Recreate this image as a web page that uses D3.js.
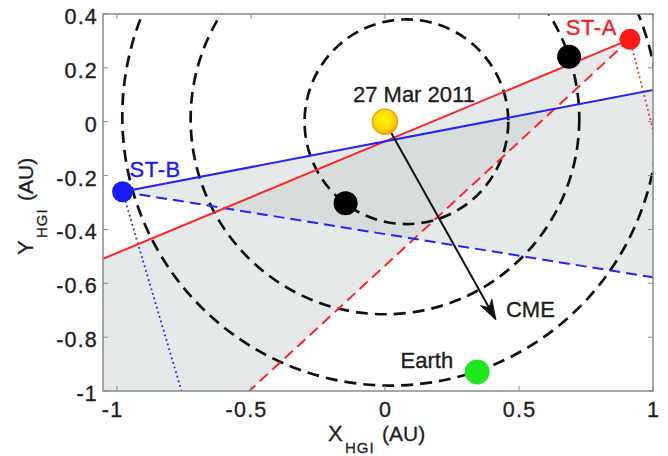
<!DOCTYPE html>
<html>
<head>
<meta charset="utf-8">
<script src="https://cdn.jsdelivr.net/npm/d3@7/dist/d3.min.js"></script>
<style>
  html, body { margin: 0; padding: 0; background: #fff; }
  svg { display: block; font-family: Arial, "Liberation Sans", Helvetica, sans-serif; }
</style>
</head>
<body>
<svg id="chart" width="668" height="456"></svg>
<script>
// ---------------- data (AU, HGI coordinates) ----------------
const xTicks = [-1, -0.5, 0, 0.5, 1];
const yTicks = [0.4, 0.2, 0, -0.2, -0.4, -0.6, -0.8, -1];
const xDomain = [-1.052, 1.0];
const yDomain = [-1.0, 0.4];

// spacecraft
const craftNames = ["ST-A", "ST-B"];
const craftX = [0.914, -0.979];
const craftY = [0.306, -0.260];
// far ends of the lines of sight (solid, dashed, dotted) for each craft
const solidEndX = [-1.052, 1.0];
const solidEndY = [-0.509, 0.118];
const dashEndX = [-0.506, 1.0];
const dashEndY = [-1.0, -0.578];
const dotEndX = [1.0, -0.759];
const dotEndY = [-0.03, -1.0];

// dashed circles (CME fronts / orbit)
const circleCx = [0.08, 0.0, 0.02];
const circleCy = [0.0, 0.01, 0.02];
const circleR = [0.38, 0.725, 1.0];

// black points on the fronts
const frontX = [0.687, -0.147];
const frontY = [0.241, -0.303];

// Sun, Earth, CME arrow
const sunXY = [0, 0];
const earthXY = [0.344, -0.929];
const cmeFrom = [0, 0];
const cmeTo = [0.414, -0.736];
const dateLabel = "27 Mar 2011";

// ---------------- layout ----------------
const svg = d3.select("#chart");
const plotL = 103, plotR = 653, plotT = 14, plotB = 391;
const x = d3.scaleLinear().domain(xDomain).range([plotL, plotR]);
const y = d3.scaleLinear().domain(yDomain).range([plotB, plotT]);

const craftColor = ["#ff1a1a", "#1a1aff"];
const lineColor = ["#ff2626", "#2424ff"];
const textColor = "#1e1e1e";

const defs = svg.append("defs");
defs.append("clipPath").attr("id", "clip")
  .append("rect").attr("x", plotL).attr("y", plotT)
  .attr("width", plotR - plotL).attr("height", plotB - plotT);
const grad = defs.append("radialGradient").attr("id", "sunGrad")
  .attr("cx", "45%").attr("cy", "40%").attr("r", "60%");
grad.append("stop").attr("offset", "0%").attr("stop-color", "#fff200");
grad.append("stop").attr("offset", "65%").attr("stop-color", "#ffdc00");
grad.append("stop").attr("offset", "100%").attr("stop-color", "#f6a800");

const plot = svg.append("g").attr("clip-path", "url(#clip)");

// field-of-view wedges
const wedges = craftNames.map((n, i) => {
  const pts = [[craftX[i], craftY[i]], [solidEndX[i], solidEndY[i]]];
  if (i === 0) pts.push([xDomain[0], yDomain[0]]);
  pts.push([dashEndX[i], dashEndY[i]]);
  return pts;
});
plot.selectAll("path.wedge").data(wedges).join("path")
  .attr("class", "wedge")
  .attr("d", d => "M" + d.map(p => [x(p[0]), y(p[1])].join(",")).join("L") + "Z")
  .attr("fill", "#c4caca").attr("fill-opacity", 0.42).attr("stroke", "none");

// dashed circles
plot.selectAll("ellipse.front").data(circleR).join("ellipse")
  .attr("class", "front")
  .attr("cx", (r, i) => x(circleCx[i]))
  .attr("cy", (r, i) => y(circleCy[i]))
  .attr("rx", (r, i) => x(circleCx[i] + r) - x(circleCx[i]))
  .attr("ry", (r, i) => y(circleCy[i] - r) - y(circleCy[i]))
  .attr("fill", "none").attr("stroke", "#111").attr("stroke-width", 2.7)
  .attr("stroke-dasharray", "12,7");

// lines of sight
const seg = (sx, sy, ex, ey) => craftNames.map((n, i) => ({i, x1: sx[i], y1: sy[i], x2: ex[i], y2: ey[i]}));
function drawLines(cls, data, width, dash) {
  plot.selectAll("line." + cls).data(data).join("line")
    .attr("class", cls)
    .attr("x1", d => x(d.x1)).attr("y1", d => y(d.y1))
    .attr("x2", d => x(d.x2)).attr("y2", d => y(d.y2))
    .attr("stroke", d => lineColor[d.i]).attr("stroke-width", width)
    .attr("stroke-dasharray", dash);
}
drawLines("dotted", seg(craftX, craftY, dotEndX, dotEndY), 1.8, "1.8,3");
drawLines("dashed", seg(craftX, craftY, dashEndX, dashEndY), 2.0, "11,6");
drawLines("solid", seg(craftX, craftY, solidEndX, solidEndY), 2.0, null);

// CME arrow
const ax1 = x(cmeFrom[0]), ay1 = y(cmeFrom[1]), ax2 = x(cmeTo[0]), ay2 = y(cmeTo[1]);
const ang = Math.atan2(ay2 - ay1, ax2 - ax1);
const headL = 20, headW = 6.5, notch = 14;
plot.append("line")
  .attr("x1", ax1).attr("y1", ay1)
  .attr("x2", ax2 - notch * Math.cos(ang)).attr("y2", ay2 - notch * Math.sin(ang))
  .attr("stroke", "#111").attr("stroke-width", 2);
const rot = (dx, dy) => [ax2 + dx * Math.cos(ang) - dy * Math.sin(ang), ay2 + dx * Math.sin(ang) + dy * Math.cos(ang)];
plot.append("path")
  .attr("d", "M" + [rot(0, 0), rot(-headL, -headW), rot(-notch, 0), rot(-headL, headW)].map(p => p.join(",")).join("L") + "Z")
  .attr("fill", "#111").attr("stroke", "#111").attr("stroke-width", 1);

// black front points
plot.selectAll("circle.fp").data(frontX).join("circle")
  .attr("class", "fp")
  .attr("cx", (d, i) => x(frontX[i])).attr("cy", (d, i) => y(frontY[i]))
  .attr("r", 12).attr("fill", "#000");

// spacecraft
plot.selectAll("circle.craft").data(craftNames).join("circle")
  .attr("class", "craft")
  .attr("cx", (d, i) => x(craftX[i])).attr("cy", (d, i) => y(craftY[i]))
  .attr("r", 10.5).attr("fill", (d, i) => craftColor[i]);

// Earth
plot.append("circle").attr("cx", x(earthXY[0])).attr("cy", y(earthXY[1]))
  .attr("r", 12.5).attr("fill", "#1ee81e");

// Sun
plot.append("circle").attr("cx", x(sunXY[0])).attr("cy", y(sunXY[1]))
  .attr("r", 12.5).attr("fill", "url(#sunGrad)").attr("stroke", "#f3a000").attr("stroke-width", 1.5);

// ---------------- text labels ----------------
const lab = svg.append("g").attr("font-size", 22).attr("fill", textColor)
  .attr("stroke", textColor).attr("stroke-width", 0.35);
lab.append("text").attr("x", x(sunXY[0]) - 32).attr("y", y(sunXY[1]) - 20).text(dateLabel);
lab.append("text").attr("x", ax2 + 10).attr("y", ay2 - 3).text("CME");
lab.append("text").attr("x", x(earthXY[0]) - 24).attr("y", y(earthXY[1]) - 3.5)
  .attr("text-anchor", "end").text("Earth");
lab.append("text").attr("x", x(craftX[0]) - 13).attr("y", y(craftY[0]) - 4)
  .attr("text-anchor", "end").attr("font-size", 22).attr("letter-spacing", 0.6)
  .attr("fill", craftColor[0]).attr("stroke", craftColor[0]).text(craftNames[0]);
lab.append("text").attr("x", x(craftX[1]) + 7).attr("y", y(craftY[1]) - 15)
  .attr("font-size", 22).attr("letter-spacing", 0.6)
  .attr("fill", craftColor[1]).attr("stroke", craftColor[1]).text(craftNames[1]);

// ---------------- axes box & ticks ----------------
const axisColor = "#8a8a8a";
const ax = svg.append("g");
const tickLen = 5;
xTicks.forEach(t => {
  ax.append("line").attr("x1", x(t)).attr("x2", x(t)).attr("y1", plotB).attr("y2", plotB - tickLen)
    .attr("stroke", axisColor).attr("stroke-width", 1);
  ax.append("line").attr("x1", x(t)).attr("x2", x(t)).attr("y1", plotT).attr("y2", plotT + tickLen)
    .attr("stroke", axisColor).attr("stroke-width", 1);
});
yTicks.forEach(t => {
  ax.append("line").attr("x1", plotL).attr("x2", plotL + tickLen).attr("y1", y(t)).attr("y2", y(t))
    .attr("stroke", axisColor).attr("stroke-width", 1);
  ax.append("line").attr("x1", plotR).attr("x2", plotR - tickLen).attr("y1", y(t)).attr("y2", y(t))
    .attr("stroke", axisColor).attr("stroke-width", 1);
});
ax.append("rect").attr("x", plotL).attr("y", plotT)
  .attr("width", plotR - plotL).attr("height", plotB - plotT)
  .attr("fill", "none").attr("stroke", axisColor).attr("stroke-width", 1.5);

const fmt = d => (d === 0 ? "0" : String(d));
const tl = svg.append("g").attr("font-size", 21.5).attr("fill", textColor)
  .attr("stroke", textColor).attr("stroke-width", 0.35).attr("letter-spacing", 1.2);
tl.selectAll("text.xt").data(xTicks).join("text")
  .attr("class", "xt")
  .attr("x", d => x(d) + (d < 0 ? -5 : 0) + 0.6).attr("y", 417)
  .attr("text-anchor", "middle").text(fmt);
tl.selectAll("text.yt").data(yTicks).join("text")
  .attr("class", "yt")
  .attr("x", 98).attr("y", d => y(d) + 10)
  .attr("text-anchor", "end").text(fmt);

// axis labels
const xl = svg.append("text").attr("fill", textColor).attr("stroke", textColor).attr("stroke-width", 0.3);
xl.append("tspan").attr("x", 328).attr("y", 441).attr("font-size", 22).text("X");
xl.append("tspan").attr("x", 345).attr("y", 453).attr("font-size", 15).attr("letter-spacing", 1).text("HGI");
xl.append("tspan").attr("x", 382).attr("y", 441).attr("font-size", 21).text("(AU)");

const yl = svg.append("text").attr("fill", textColor).attr("stroke", textColor).attr("stroke-width", 0.3)
  .attr("transform", "translate(33,255) rotate(-90)");
yl.append("tspan").attr("x", 0).attr("y", 0).attr("font-size", 22).text("Y");
yl.append("tspan").attr("x", 17).attr("y", 14).attr("font-size", 15).attr("letter-spacing", 1).text("HGI");
yl.append("tspan").attr("x", 54).attr("y", 0).attr("font-size", 21).text("(AU)");
</script>
</body>
</html>
